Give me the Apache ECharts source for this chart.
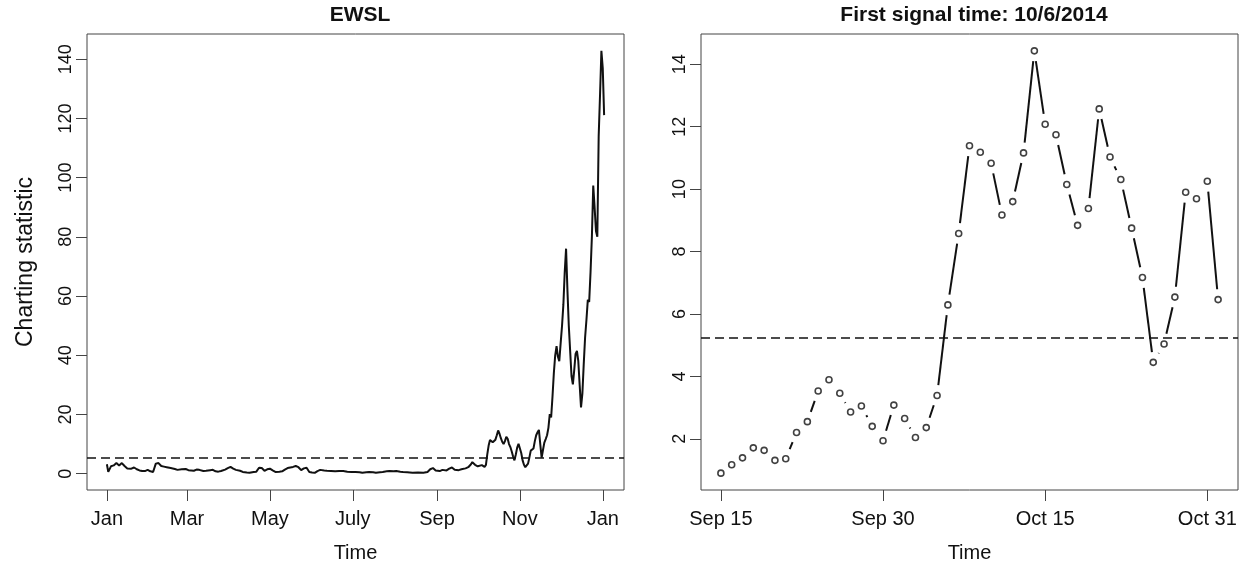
<!DOCTYPE html>
<html>
<head>
<meta charset="utf-8">
<script src="https://cdn.jsdelivr.net/npm/echarts@6/dist/echarts.min.js"></script>
<style>
  html, body { margin: 0; padding: 0; background: #fff; }
  #chart { width: 1240px; height: 568px; }
</style>
</head>
<body>
<div id="chart"></div>
<script>
// EWSL charting statistic over 2014 (day 0 = 1 Jan 2014)
const ewslDay = [
  0, 1, 3, 5, 7, 9, 11, 13, 15, 18, 20, 22, 24, 26, 28, 30, 32, 34, 35, 36,
  38, 40, 42, 44, 47, 50, 52, 55, 58, 60, 62, 64, 66, 68, 71, 73, 76, 78, 80, 82,
  84, 87, 89, 91, 93, 95, 98, 100, 103, 105, 108, 110, 112, 114, 116, 118, 120, 122, 124, 127,
  129, 131, 133, 135, 137, 139, 141, 143, 145, 147, 149, 151, 153, 155, 157, 160, 162, 165, 168, 171,
  174, 177, 180, 183, 186, 188, 191, 193, 196, 198, 201, 203, 206, 208, 211, 213, 216, 218, 221, 225,
  229, 233, 236, 238, 240, 242, 245, 247, 250, 252, 254, 256, 257, 259, 261, 262, 264, 266, 268, 269,
  271, 273, 274, 276, 277, 278, 279, 280, 281, 282, 283, 284, 285, 286, 287, 288, 289, 290, 291, 292,
  293, 294, 295, 296, 297, 298, 299, 300, 301, 302, 303, 304, 305, 306, 307, 308, 309, 310, 311, 312,
  313, 314, 315, 316, 317, 318, 319, 320, 321, 322, 323, 324, 325, 326, 327, 328, 329, 330, 331, 332,
  333, 334, 335, 336, 337, 338, 339, 340, 341, 342, 343, 344, 345, 346, 347, 348, 349, 350, 351, 352,
  353, 354, 355, 356, 357, 358, 359, 360, 361, 362, 363, 364, 365, 366
];
const ewslValue = [
  3.2, 0.6, 2.5, 2.8, 3.6, 2.8, 3.6, 2.6, 1.8, 1.7, 2.1, 1.5, 1.1, 0.9, 0.9, 1.3, 0.8, 0.6, 0.8, 3.4,
  3.6, 2.6, 2.4, 2.2, 1.9, 1.6, 1.3, 1.5, 1.6, 1.2, 1.1, 1.0, 1.4, 1.3, 0.9, 1.0, 1.2, 1.3, 0.8, 0.7,
  0.9, 1.4, 1.9, 2.3, 1.7, 1.3, 1.0, 0.6, 0.4, 0.3, 0.6, 0.7, 2.0, 1.9, 1.0, 1.5, 1.7, 1.1, 0.6, 0.7,
  0.8, 1.4, 1.9, 2.1, 2.3, 2.6, 2.2, 1.2, 1.8, 2.0, 0.6, 0.4, 0.3, 0.9, 1.3, 1.1, 1.0, 0.9, 0.8, 0.9,
  0.9, 0.7, 0.6, 0.6, 0.5, 0.3, 0.5, 0.6, 0.5, 0.3, 0.5, 0.6, 0.8, 0.9, 0.8, 0.9, 0.7, 0.6, 0.5, 0.3,
  0.4, 0.3, 0.6, 1.5, 1.9, 1.1, 0.9, 1.3, 1.1, 1.7, 2.1, 1.3, 0.7, 1.2, 1.5, 1.4, 1.8, 2.2, 3.2, 3.9,
  3.0, 2.5, 2.4, 2.9, 2.6, 2.3, 3.0, 6.5, 9.5, 11.4, 11.0, 10.6, 10.4, 11.5, 13.0, 14.6, 13.5, 12.0, 10.8, 10.0,
  11.0, 12.5, 11.8, 10.0, 9.0, 7.5, 5.8, 4.5, 6.5, 8.8, 10.1, 9.8, 7.0, 4.5, 3.0, 2.2, 2.6, 3.4, 5.5, 7.8,
  7.3, 8.5, 11.0, 13.0, 14.0, 14.8, 10.0, 5.4, 8.0, 10.5, 11.7, 13.0, 15.5, 20.1, 19.0, 26.0, 34.0, 40.0, 43.1, 39.5,
  38.0, 44.0, 49.8, 57.0, 68.0, 76.0, 62.0, 50.0, 41.5, 33.0, 30.2, 35.0, 40.5, 41.5, 38.0, 30.0, 22.4, 27.0, 37.0, 46.0,
  52.0, 58.7, 58.0, 68.0, 80.0, 97.3, 90.0, 82.0, 80.0, 114.0, 128.0, 142.8, 137.0, 121.1
];
const yearTickDay = [0, 59, 120, 181, 243, 304, 365];
const yearTickLabel = ['Jan', 'Mar', 'May', 'July', 'Sep', 'Nov', 'Jan'];
const ewslTicks = [0, 20, 40, 60, 80, 100, 120, 140];

// Daily statistic from 15 Sep to 31 Oct 2014
const signalValue = [
  0.90, 1.17, 1.39, 1.71, 1.63, 1.31, 1.36, 2.20, 2.55, 3.53,
  3.89, 3.46, 2.86, 3.05, 2.40, 1.94, 3.08, 2.65, 2.04, 2.36,
  3.39, 6.29, 8.58, 11.39, 11.18, 10.83, 9.17, 9.60, 11.16, 14.43,
  12.08, 11.74, 10.15, 8.84, 9.38, 12.57, 11.03, 10.31, 8.75, 7.17,
  4.45, 5.04, 6.54, 9.90, 9.69, 10.25, 6.46
];
const signalTickDay = [0, 15, 30, 45];
const signalTickLabel = ['Sep 15', 'Sep 30', 'Oct 15', 'Oct 31'];
const signalTicks = [2, 4, 6, 8, 10, 12, 14];

// Control limit shared by both panels
const controlLimit = 5.25;

const FONT = '"Liberation Sans", Arial, Helvetica, sans-serif';
const INK = '#111';
const FRAME = '#444';

const ewslData = ewslDay.map((d, i) => [d, ewslValue[i]]);
const signalPoints = signalValue.map((v, i) => [i, v]);
const signalSegments = [];
for (let i = 0; i < signalValue.length - 1; i++) {
  signalSegments.push([i, signalValue[i], i + 1, signalValue[i + 1]]);
}

function xAxisFor(gridIndex, min, max, ticks, labels) {
  return {
    type: 'value', gridIndex, min, max, position: 'bottom',
    name: 'Time', nameLocation: 'middle', nameGap: 53,
    nameTextStyle: { fontFamily: FONT, fontSize: 20, color: INK },
    axisLine: { show: false, onZero: false },
    splitLine: { show: false },
    axisTick: { show: true, inside: false, length: 11, customValues: ticks,
      lineStyle: { color: FRAME, width: 1 } },
    axisLabel: { show: true, margin: 19, customValues: ticks, fontFamily: FONT, fontSize: 20, color: INK,
      formatter: v => labels[ticks.indexOf(v)] }
  };
}
function yAxisFor(gridIndex, min, max, ticks, name) {
  return {
    type: 'value', gridIndex, min, max, position: 'left',
    name: name, nameLocation: 'middle', nameGap: 50, nameRotate: 90,
    nameTextStyle: { fontFamily: FONT, fontSize: 23, color: INK },
    axisLine: { show: false, onZero: false },
    splitLine: { show: false },
    axisTick: { show: true, inside: false, length: 11, customValues: ticks,
      lineStyle: { color: FRAME, width: 1 } },
    axisLabel: { show: true, rotate: 90, margin: 12, customValues: ticks, fontFamily: FONT, fontSize: 18, color: INK }
  };
}

const limitLine = {
  silent: true, symbol: 'none', label: { show: false },
  lineStyle: { color: INK, type: [9, 5], width: 1.6 },
  data: [{ yAxis: controlLimit }]
};

const chart = echarts.init(document.getElementById('chart'), null, { renderer: 'canvas' });
chart.setOption({
  backgroundColor: '#fff',
  animation: false,
  title: [
    { text: 'EWSL', left: 355, top: 0, textAlign: 'center',
      textStyle: { fontFamily: FONT, fontSize: 21, fontWeight: 'bold', color: INK } },
    { text: 'First signal time: 10/6/2014', left: 969, top: 0, textAlign: 'center',
      textStyle: { fontFamily: FONT, fontSize: 21, fontWeight: 'bold', color: INK } }
  ],
  grid: [
    { left: 87, top: 34, width: 537, height: 459, show: true, borderColor: FRAME, borderWidth: 1, backgroundColor: 'transparent' },
    { left: 701, top: 34, width: 537, height: 458, show: true, borderColor: FRAME, borderWidth: 1, backgroundColor: 'transparent' }
  ],
  xAxis: [
    xAxisFor(0, -14.64, 380.64, yearTickDay, yearTickLabel),
    xAxisFor(1, -1.84, 47.84, signalTickDay, signalTickLabel)
  ],
  yAxis: [
    yAxisFor(0, -5.5, 148.5, ewslTicks, 'Charting statistic'),
    yAxisFor(1, 0.36, 14.97, signalTicks, '')
  ],
  series: [
    {
      type: 'line', xAxisIndex: 0, yAxisIndex: 0, data: ewslData,
      showSymbol: false, smooth: false,
      lineStyle: { color: INK, width: 2 },
      markLine: limitLine
    },
    {
      type: 'custom', xAxisIndex: 1, yAxisIndex: 1, data: signalSegments,
      encode: { x: [0, 2], y: [1, 3] },
      renderItem: (params, api) => {
        const a = api.coord([api.value(0), api.value(1)]);
        const b = api.coord([api.value(2), api.value(3)]);
        const dx = b[0] - a[0], dy = b[1] - a[1];
        const len = Math.hypot(dx, dy);
        const gap = 10.4;
        if (len <= 2 * gap) return null;
        const ux = dx / len, uy = dy / len;
        return {
          type: 'line',
          shape: { x1: a[0] + ux * gap, y1: a[1] + uy * gap, x2: b[0] - ux * gap, y2: b[1] - uy * gap },
          style: { stroke: INK, lineWidth: 2 }
        };
      },
      markLine: limitLine
    },
    {
      type: 'scatter', xAxisIndex: 1, yAxisIndex: 1, data: signalPoints,
      symbol: 'circle', symbolSize: 6,
      itemStyle: { color: '#fff', borderColor: INK, borderWidth: 1.6 }
    }
  ]
});
</script>
</body>
</html>
